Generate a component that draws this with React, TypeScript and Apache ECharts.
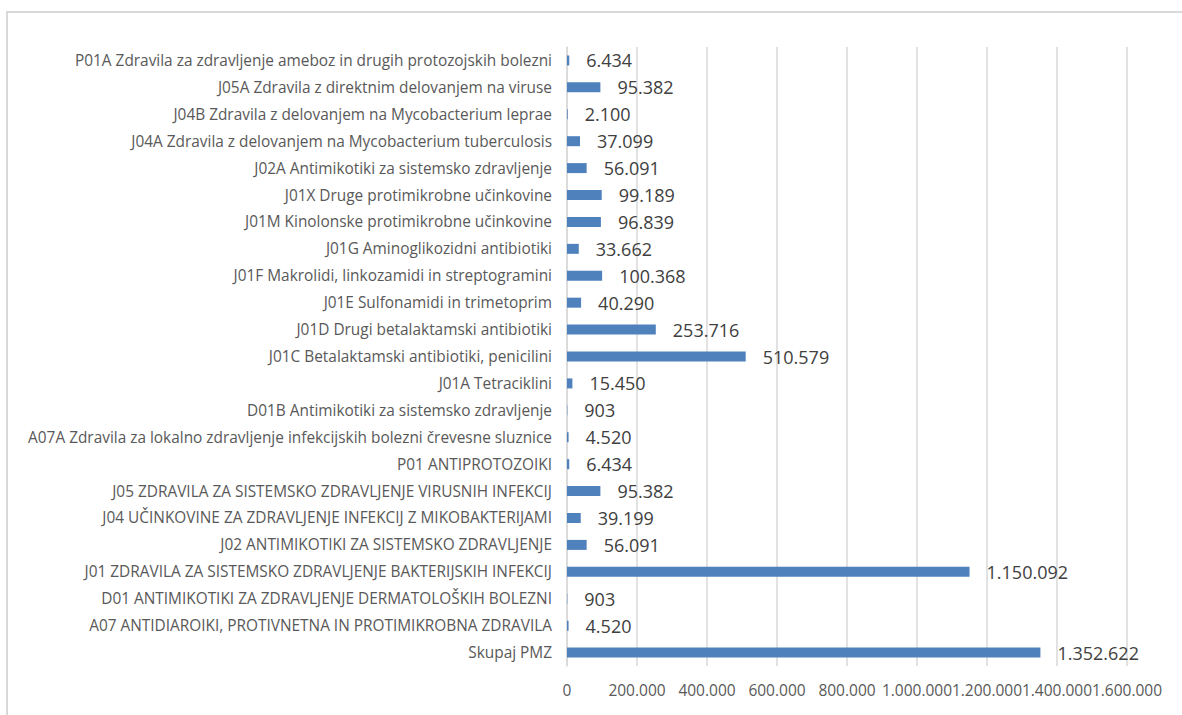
import React, { useEffect, useRef } from "react";
import * as echarts from "echarts";

const categories: string[] = [
  "P01A Zdravila za zdravljenje ameboz in drugih protozojskih bolezni",
  "J05A Zdravila z direktnim delovanjem na viruse",
  "J04B Zdravila z delovanjem na Mycobacterium leprae",
  "J04A Zdravila z delovanjem na Mycobacterium tuberculosis",
  "J02A Antimikotiki za sistemsko zdravljenje",
  "J01X Druge protimikrobne učinkovine",
  "J01M Kinolonske protimikrobne učinkovine",
  "J01G Aminoglikozidni antibiotiki",
  "J01F Makrolidi, linkozamidi in streptogramini",
  "J01E Sulfonamidi in trimetoprim",
  "J01D Drugi betalaktamski antibiotiki",
  "J01C Betalaktamski antibiotiki, penicilini",
  "J01A Tetraciklini",
  "D01B Antimikotiki za sistemsko zdravljenje",
  "A07A Zdravila za lokalno zdravljenje infekcijskih bolezni črevesne sluznice",
  "P01 ANTIPROTOZOIKI",
  "J05 ZDRAVILA ZA SISTEMSKO ZDRAVLJENJE VIRUSNIH INFEKCIJ",
  "J04 UČINKOVINE ZA ZDRAVLJENJE INFEKCIJ Z MIKOBAKTERIJAMI",
  "J02 ANTIMIKOTIKI ZA SISTEMSKO ZDRAVLJENJE",
  "J01 ZDRAVILA ZA SISTEMSKO ZDRAVLJENJE BAKTERIJSKIH INFEKCIJ",
  "D01 ANTIMIKOTIKI ZA ZDRAVLJENJE DERMATOLOŠKIH BOLEZNI",
  "A07 ANTIDIAROIKI, PROTIVNETNA IN PROTIMIKROBNA ZDRAVILA",
  "Skupaj PMZ",
];

const values: number[] = [
  6434, 95382, 2100, 37099, 56091, 99189, 96839, 33662, 100368, 40290,
  253716, 510579, 15450, 903, 4520, 6434, 95382, 39199, 56091, 1150092,
  903, 4520, 1352622,
];

const axisMin = 0;
const axisMax = 1600000;
const axisStep = 200000;

const fmt = (v: number): string =>
  String(Math.round(v)).replace(/\B(?=(\d{3})+(?!\d))/g, ".");

export default function App() {
  const ref = useRef<HTMLDivElement>(null);

  useEffect(() => {
    if (!ref.current) return;
    const chart = echarts.init(ref.current, undefined, { renderer: "svg" });
    chart.setOption({
      animation: false,
      backgroundColor: "#ffffff",
      graphic: [
        {
          type: "rect",
          shape: { x: 7, y: 12, width: 1200, height: 720 },
          style: { fill: "none", stroke: "#d9d9d9", lineWidth: 2 },
          silent: true,
        },
      ],
      grid: { left: 567, right: 55, top: 47, bottom: 49, containLabel: false },
      xAxis: {
        type: "value",
        min: axisMin,
        max: axisMax,
        interval: axisStep,
        axisLine: { show: false },
        axisTick: { show: false },
        splitLine: { show: true, lineStyle: { color: "#d9d9d9", width: 1.5 } },
        axisLabel: {
          color: "#595959",
          fontFamily: "Open Sans",
          fontSize: 15.5,
          margin: 16,
          hideOverlap: false,
          formatter: (v: number) => fmt(v),
        },
      },
      yAxis: {
        type: "category",
        data: categories,
        inverse: true,
        axisLine: { show: true, lineStyle: { color: "#d9d9d9", width: 1.5 } },
        axisTick: { show: false },
        axisLabel: {
          color: "#595959",
          fontFamily: "Open Sans",
          fontSize: 15.4,
          margin: 15,
          interval: 0,
        },
      },
      series: [
        {
          type: "bar",
          data: values,
          barWidth: 10,
          itemStyle: { color: "#4f81bd" },
          label: {
            show: true,
            position: "right",
            distance: 17,
            color: "#404040",
            fontFamily: "Open Sans",
            fontSize: 18,
            formatter: (p: any) => fmt(p.value),
          },
        },
      ],
    });
    return () => chart.dispose();
  }, []);

  return (
    <div
      ref={ref}
      style={{ position: "fixed", left: 0, top: 0, width: 1182, height: 715 }}
    />
  );
}
